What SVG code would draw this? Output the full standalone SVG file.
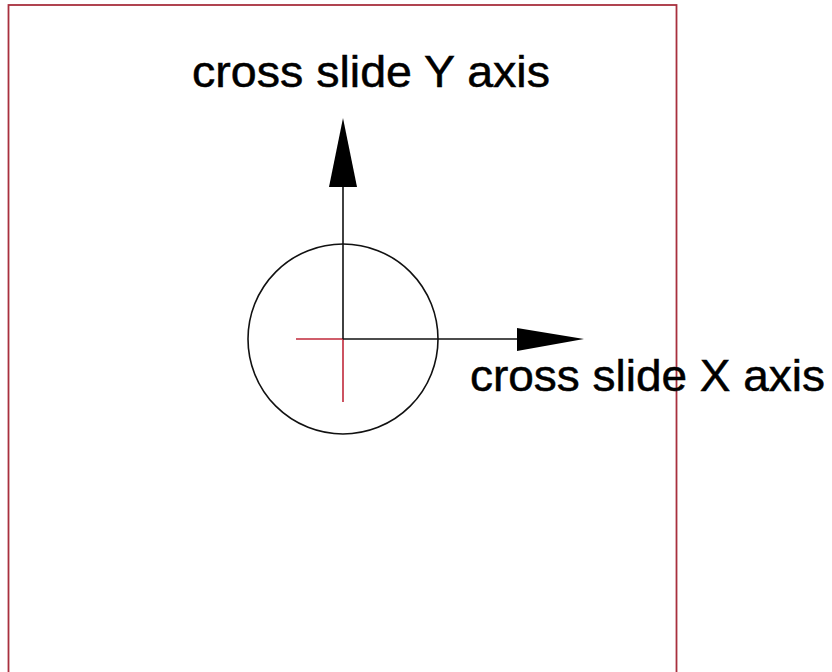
<svg xmlns="http://www.w3.org/2000/svg" width="832" height="672" viewBox="0 0 832 672">
<style>
.lbl{font-family:"Liberation Sans",Arial,sans-serif;font-size:44px;fill:#000;stroke:#000;stroke-width:0.5}
.ax{stroke:#111;stroke-width:1.6;fill:none}
.red{stroke:#c0283a;stroke-width:1.6;fill:none}
</style>
<rect width="832" height="672" fill="#fff"/>
<g id="frame"><rect x="8.5" y="5" width="668" height="680" fill="none" stroke="#a8303e" stroke-width="1.8"/></g>
<g id="circle"><circle cx="343" cy="339" r="95" class="ax"/></g>
<g id="center">
<line x1="296" y1="339" x2="343" y2="339" class="red"/>
<line x1="343" y1="339" x2="343" y2="402" class="red"/>
</g>
<g id="connectors">
<line x1="343" y1="339" x2="343" y2="150" class="ax"/>
<polygon points="343,118 357,187 329,187" fill="#000"/>
<line x1="343" y1="339" x2="540" y2="339" class="ax"/>
<polygon points="584,339 517,328 517,351" fill="#000"/>
</g>
<g id="labelY"><text class="lbl" x="192" y="87" textLength="358" lengthAdjust="spacingAndGlyphs">cross slide Y axis</text></g>
<g id="labelX"><text class="lbl" x="470" y="391" textLength="355" lengthAdjust="spacingAndGlyphs">cross slide X axis</text></g>
</svg>
